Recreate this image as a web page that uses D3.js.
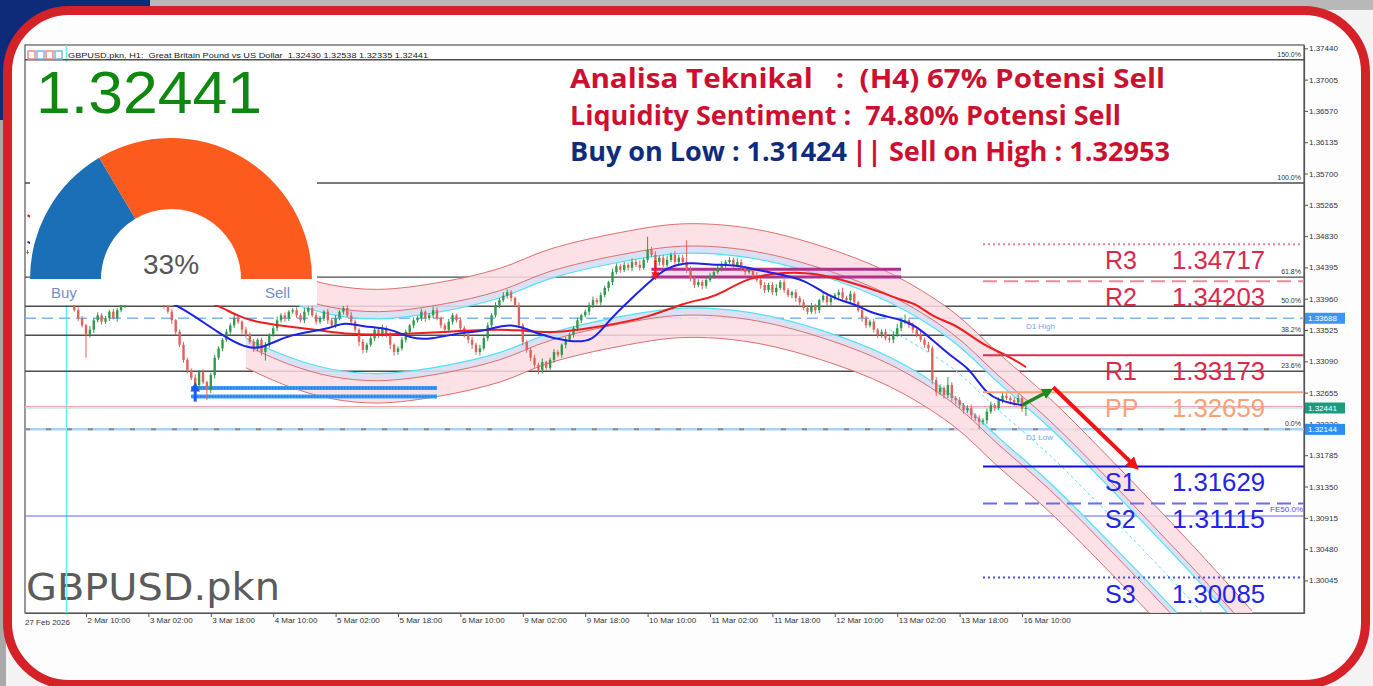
<!DOCTYPE html>
<html>
<head>
<meta charset="utf-8">
<script src="https://cdn.jsdelivr.net/npm/d3@7"></script>
<style>
  body { margin: 0; background: #f2f2f2; }
  svg { display: block; }
  text { white-space: pre; }
</style>
</head>
<body>
<svg id="chart" width="1373" height="686"></svg>
<script>
// ---- data ----
let firstBar = -15

let closes = [
  1.3461,1.3453,1.3457,1.3447,1.3439,1.3443,1.3433,1.3422,1.3428,1.3415,1.3405,
  1.3394,1.3380,1.3369,1.3359,1.3346,1.3353,1.3366,1.3373,1.3364,1.3369,
  1.3378,1.3369,1.3380,1.3387,1.3397,1.3401,1.3405,1.3408,1.3411,1.3405,1.3401,1.3408,1.3403,1.3394,1.3386,
  1.3378,1.3366,1.3350,1.3332,1.3311,1.3297,1.3286,1.3276,1.3294,1.3280,1.3269,1.3290,1.3314,1.3327,1.3339,1.3350,1.3359,1.3369,
  1.3364,1.3353,1.3346,1.3336,1.3327,1.3339,1.3322,1.3332,1.3346,1.3355,1.3366,1.3373,
  1.3369,1.3378,1.3380,1.3373,1.3366,1.3378,1.3383,1.3373,1.3364,1.3369,1.3378,1.3366,1.3359,1.3369,1.3378,1.3383,1.3373,
  1.3364,1.3353,1.3336,1.3325,1.3332,1.3341,1.3353,1.3346,1.3355,1.3346,1.3332,1.3322,1.3327,1.3339,1.3350,1.3359,1.3366,1.3369,
  1.3378,1.3369,1.3373,1.3380,1.3369,1.3359,1.3353,1.3364,1.3373,1.3366,1.3355,1.3346,1.3339,
  1.3332,1.3322,1.3327,1.3341,1.3359,
  1.3373,1.3387,1.3394,1.3400,1.3405,1.3397,1.3387,
  1.3359,1.3336,1.3325,1.3314,1.3304,1.3297,1.3308,1.3300,
  1.3311,1.3322,1.3318,1.3332,1.3339,1.3346,1.3355,1.3366,1.3373,1.3378,1.3387,1.3394,
  1.3391,1.3401,1.3411,1.3419,1.3433,1.3441,1.3436,1.3443,1.3439,1.3447,1.3443,
  1.3439,1.3450,1.3464,1.3457,1.3447,1.3453,1.3443,1.3450,1.3457,1.3447,1.3453,
  1.3447,1.3436,1.3425,1.3415,1.3419,1.3414,1.3422,1.3428,
  1.3433,1.3439,1.3443,1.3447,1.3450,1.3443,1.3447,1.3439,1.3433,1.3436,1.3428,
  1.3422,1.3415,1.3408,1.3415,1.3405,1.3411,1.3419,1.3408,1.3401,1.3405,1.3397,
  1.3391,1.3383,1.3378,1.3386,1.3380,1.3394,1.3400,1.3391,1.3397,
  1.3401,1.3405,1.3397,1.3394,1.3403,1.3391,
  1.3380,1.3369,1.3359,1.3364,1.3353,1.3346,1.3350,1.3341,1.3339,1.3346,1.3355,
  1.3364,1.3366,1.3359,
  1.3353,1.3346,1.3339,1.3332,1.3327,
  1.3283,1.3266,1.3272,1.3262,1.3276,1.3258,
  1.3255,1.3248,1.3241,1.3244,1.3234,1.3230,1.3225,
  1.3227,1.3239,1.3248,1.3244,1.3255,
  1.3261,1.3258,1.3255,1.3252,1.3258,1.3243,1.32441
]

// wick lengths in pips above / below the body
let wickUp = [
  3,4,2,5,3,4,2,3,5,3,4,2,3,4,3,2,5,3,4,3,
  3,2,4,3,5,2,3,4,3,5,2,4,3,3,4,2,3,4,2,3,
  4,3,2,5,3,4,2,3,4,3,2,4,3,5,3,2,4,3,4,2,
  3,4,2,3,5,3,4,2,3,4,3,5,2,3,4,3,2,4,3,4,
  2,3,4,5,3,2,4,3,3,4,2,5,3,4,2,3,4,3,2,4,
  3,4,2,3,5,4,2,3,4,3,2,4,3,2,4,3,5,3,4,3,
  4,3,5,4,3,2,4,3,2,3,4,3,5,2,3,4,3,2,4,3,
  3,4,2,3,4,5,3,4,3,2,5,4,3,4,3,5,4,6,3,18,
  4,5,3,4,6,3,5,4,4,30,5,3,4,3,5,4,3,4,5,3,
  4,3,5,4,3,4,3,5,3,4,3,4,5,3,4,3,2,4,3,4,
  3,4,3,2,4,3,5,3,4,6,3,4,3,2,4,3,3,4,2,3,
  4,3,5,6,4,8,3,4,3,5,3,4,3,4,5,3,11,4,3,4,
  3,4,5,3,4,3,4,5,3,4,5,4,3,4,5,3,10
]
let wickDown = [
  3,2,4,3,5,3,4,2,3,4,3,5,2,4,3,32,4,5,3,4,
  3,4,2,5,3,4,3,2,4,3,5,3,4,2,3,4,3,5,4,3,
  4,5,3,4,5,3,14,4,5,3,4,3,5,4,3,6,4,3,5,4,
  5,12,4,3,4,3,5,4,3,4,3,4,5,3,4,3,4,5,3,4,
  3,4,3,5,4,6,5,4,3,4,5,3,4,6,5,4,3,4,3,4,
  3,4,5,3,4,3,4,5,3,4,3,5,4,5,6,4,5,3,4,3,
  3,4,3,4,5,3,4,5,4,5,4,6,5,4,3,4,3,4,5,3,
  4,3,4,3,5,4,3,4,3,5,4,3,4,3,4,5,3,4,3,4,
  3,4,5,3,4,3,4,5,3,4,5,4,3,5,4,3,4,3,5,4,
  3,4,3,5,4,3,4,3,5,4,3,4,5,3,4,3,4,5,4,3,
  4,3,5,4,3,4,5,3,4,3,4,5,4,3,5,4,3,4,5,4,
  3,4,5,3,4,3,4,5,4,3,4,5,6,5,4,5,4,5,6,4,
  5,4,5,4,11,4,5,3,4,3,4,3,4,5,3,4,10
]

// [bar, price] points of the two moving averages
let blueMA = [[-15,1.3475],[4,1.3433],[16,1.3405],[25,1.3383],[34,1.3348],[41,1.3327],[45,1.3327],[51,1.3343],
  [55,1.3348],[63,1.3355],[66,1.3364],[71,1.3357],[78,1.3355],[83,1.3341],[88,1.3339],[97,1.3350],[102,1.3350],
  [109,1.3364],[116,1.3346],[124,1.3336],[130,1.3336],[134,1.3366],[140,1.3397],[145,1.3422],[149,1.3440],
  [155,1.3447],[160,1.3443],[167,1.3443],[172,1.3436],[179,1.3429],[184,1.3422],[189,1.3405],[193,1.3394],
  [198,1.3387],[201,1.3376],[210,1.3366],[213,1.3357],[217,1.3339],[222,1.3315],[226,1.3301],[229,1.3279],
  [231,1.3265],[234,1.3255],[237,1.3251],[240,1.3248]]
let redMA = [[-15,1.3512],[9,1.3447],[24,1.3405],[34,1.3387],[39,1.3371],[45,1.3362],[51,1.3358],[59,1.3353],
  [68,1.3346],[76,1.3346],[85,1.3348],[93,1.3350],[102,1.3353],[111,1.3353],[119,1.3347],[132,1.3357],
  [145,1.3371],[153,1.3390],[160,1.3397],[163,1.3404],[170,1.3426],[179,1.3433],[187,1.3432],[196,1.3419],
  [204,1.3405],[209,1.3394],[213,1.3389],[217,1.3371],[222,1.3362],[226,1.3348],[231,1.3329],[236,1.3318],[241,1.3301]]

// polynomial regression channel: centre line and band offsets (price)
let channelCenter = [[41,1.3379],[52,1.3353],[63,1.3336],[75,1.3330],[91,1.3340],[106,1.3359],[119,1.3386],
  [137,1.3409],[153,1.3421],[170,1.3415],[188,1.3391],[206,1.3353],[222,1.3300],[234,1.3241],[247,1.3179],
  [260,1.3109],[273,1.3036],[286,1.2961],[299,1.2883]]
let channelOuter = 0.0079, channelInner = 0.0048, channelCyan = 0.0038

let priceTicks = [1.37440,1.37005,1.36570,1.36135,1.35700,1.35265,1.34830,1.34395,1.33960,1.33525,
  1.33090,1.32655,1.32220,1.31785,1.31350,1.30915,1.30480,1.30045]
let timeBars = [0,16,32,48,64,80,96,112,128,144,160,176,192,208,224,240]
let timeLabels = ["2 Mar 10:00","3 Mar 02:00","3 Mar 18:00","4 Mar 10:00","5 Mar 02:00","5 Mar 18:00",
  "6 Mar 10:00","9 Mar 02:00","9 Mar 18:00","10 Mar 10:00","11 Mar 02:00","11 Mar 18:00","12 Mar 10:00",
  "13 Mar 02:00","13 Mar 18:00","16 Mar 10:00"]

let fibLow = 1.32144, fibHigh = 1.35568
let fibLevels = [0, 23.6, 38.2, 50, 61.8, 100, 150]

let pivotNames = ["R3","R2","R1","PP","S1","S2","S3"]
let pivotValues = [1.34717,1.34203,1.33173,1.32659,1.31629,1.31115,1.30085]
let pivotStartBar = 230

let d1High = 1.33688, d1Low = 1.32144, fe50 = 1.3094
let bid = 1.32441, ask = 1.32462
let resistZone = [145, 209, 1.3426, 1.3437]
let supportZone = [27, 90, 1.3260, 1.3272]
let signalArrows = [
  {from: [146, 1.3449], to: [146, 1.3426], kind: "down"},
  {from: [28, 1.3253], to: [28, 1.3275], kind: "up"},
  {from: [240, 1.3248], to: [247, 1.3268], kind: "buy"},
  {from: [248, 1.3273], to: [269, 1.3163], kind: "sell"}
]
let gaugeShares = [33, 67]
let gaugeLabels = ["Buy", "Sell"]

// ---- layout ----
let plot = {left: 25, right: 1304, top: 45, bottom: 613}
let x = d3.scaleLinear().domain([-15.64, 312.3]).range([plot.left, plot.right])
let y = d3.scaleLinear().domain([1.29592, 1.37486]).range([plot.bottom, plot.top])
let svg = d3.select("#chart")
let mono = "Liberation Sans, Arial, sans-serif"

// page background and red frame
svg.append("rect").attr("width", 1373).attr("height", 686).attr("fill", "#f3f3f3")
svg.append("rect").attr("width", 1373).attr("height", 10).attr("fill", "#b8b8b8")
svg.append("rect").attr("width", 150).attr("height", 120).attr("fill", "#0d2b78")
svg.append("rect").attr("y", 120).attr("width", 6).attr("height", 566).attr("fill", "#a9a9a9")
svg.append("rect")
  .attr("x", 7.5).attr("y", 10.5).attr("width", 1358).attr("height", 674)
  .attr("rx", 62).attr("fill", "#fdfdfd")
  .attr("stroke", "#d52229").attr("stroke-width", 9)

// chart window
svg.append("rect")
  .attr("x", plot.left).attr("y", plot.top)
  .attr("width", plot.right - plot.left).attr("height", plot.bottom - plot.top)
  .attr("fill", "#fff").attr("stroke", "#555").attr("stroke-width", 1.2)

svg.append("clipPath").attr("id", "clip")
  .append("rect")
  .attr("x", plot.left).attr("y", plot.top)
  .attr("width", plot.right - plot.left).attr("height", plot.bottom - plot.top)

let g = svg.append("g").attr("clip-path", "url(#clip)")

// watermark
g.append("text").attr("x", 26).attr("y", 600)
  .attr("font-family", "DejaVu Sans, sans-serif").attr("font-size", 37)
  .attr("fill", "#5b5b5b").attr("textLength", 254).attr("lengthAdjust", "spacingAndGlyphs")
  .text("GBPUSD.pkn")

// vertical cyan separator
g.append("line").attr("x1", x(-5)).attr("x2", x(-5)).attr("y1", plot.top).attr("y2", plot.bottom)
  .attr("stroke", "#62f2f4").attr("stroke-width", 1.6)

// fibonacci lines
let fibPrice = lv => fibLow + (fibHigh - fibLow) * lv / 100
g.selectAll(".fib").data(fibLevels).enter().append("line")
  .attr("x1", plot.left).attr("x2", plot.right)
  .attr("y1", d => y(fibPrice(d))).attr("y2", d => y(fibPrice(d)))
  .attr("stroke", "#4d4d4d").attr("stroke-width", 1.4)
g.selectAll(".fibl").data(fibLevels).enter().append("text")
  .attr("x", plot.right - 3).attr("y", d => y(fibPrice(d)) - 3)
  .attr("text-anchor", "end").attr("font-family", mono).attr("font-size", 7).attr("fill", "#333")
  .text(d => d.toFixed(1) + "%")

// D1 high / low, FE line, bid / ask
g.append("line").attr("x1", plot.left).attr("x2", plot.right)
  .attr("y1", y(d1High)).attr("y2", y(d1High))
  .attr("stroke", "#7db6f2").attr("stroke-width", 1.5).attr("stroke-dasharray", "11,6")
g.append("line").attr("x1", plot.left).attr("x2", plot.right)
  .attr("y1", y(d1Low)).attr("y2", y(d1Low))
  .attr("stroke", "#a6d2fb").attr("stroke-width", 2.5)
g.append("line").attr("x1", plot.left).attr("x2", plot.right)
  .attr("y1", y(d1Low)).attr("y2", y(d1Low))
  .attr("stroke", "#8a8a8a").attr("stroke-width", 2).attr("stroke-dasharray", "5,16")
g.append("text").attr("x", x(241)).attr("y", y(d1High) + 11)
  .attr("font-family", mono).attr("font-size", 8).attr("fill", "#6aa8ec").text("D1 High")
g.append("text").attr("x", x(241)).attr("y", y(d1Low) + 11)
  .attr("font-family", mono).attr("font-size", 8).attr("fill", "#6aa8ec").text("D1 Low")
g.append("line").attr("x1", plot.left).attr("x2", plot.right)
  .attr("y1", y(fe50)).attr("y2", y(fe50))
  .attr("stroke", "#6464f4").attr("stroke-width", 1.2)
g.append("text").attr("x", plot.right - 1).attr("y", y(fe50) - 4)
  .attr("text-anchor", "end").attr("font-family", mono).attr("font-size", 8).attr("fill", "#4a4af5")
  .text("FE50.0%")
g.append("line").attr("x1", plot.left).attr("x2", plot.right)
  .attr("y1", y(ask)).attr("y2", y(ask)).attr("stroke", "#f0a4a4").attr("stroke-width", 1.2)
g.append("line").attr("x1", plot.left).attr("x2", plot.right)
  .attr("y1", y(bid)).attr("y2", y(bid)).attr("stroke", "#9fdcd6").attr("stroke-width", 1.2)

// regression channel
let band = (a, b) => d3.area().curve(d3.curveCatmullRom)
  .x(d => x(d[0])).y0(d => y(d[1] + a)).y1(d => y(d[1] + b))
let edge = off => d3.line().curve(d3.curveCatmullRom)
  .x(d => x(d[0])).y(d => y(d[1] + off))
;[[channelInner, channelOuter], [-channelOuter, -channelInner]].forEach(([a, b]) =>
  g.append("path").datum(channelCenter).attr("d", band(a, b)).attr("fill", "#fbdde2").attr("fill-opacity", 0.85))
;[[channelCyan, channelInner], [-channelInner, -channelCyan]].forEach(([a, b]) =>
  g.append("path").datum(channelCenter).attr("d", band(a, b)).attr("fill", "#d9dcf2").attr("fill-opacity", 0.9))
;[channelOuter, channelInner, -channelInner, -channelOuter].forEach(o =>
  g.append("path").datum(channelCenter).attr("d", edge(o))
    .attr("fill", "none").attr("stroke", "#dc6f6c").attr("stroke-width", 1))
;[channelCyan, -channelCyan].forEach(o =>
  g.append("path").datum(channelCenter).attr("d", edge(o))
    .attr("fill", "none").attr("stroke", "#4fe3f0").attr("stroke-width", 1.2))
g.append("path").datum(channelCenter.filter(d => d[0] >= 206)).attr("d", edge(0))
  .attr("fill", "none").attr("stroke", "#4fe3f0").attr("stroke-width", 1).attr("stroke-dasharray", "3,3")

// zones
g.append("rect").attr("x", x(resistZone[0])).attr("width", x(resistZone[1]) - x(resistZone[0]))
  .attr("y", y(resistZone[3])).attr("height", y(resistZone[2]) - y(resistZone[3]))
  .attr("fill", "#e7a6cf").attr("fill-opacity", 0.35)
;[resistZone[2], resistZone[3]].forEach(p =>
  g.append("line").attr("x1", x(resistZone[0])).attr("x2", x(resistZone[1]))
    .attr("y1", y(p)).attr("y2", y(p)).attr("stroke", "#b0308e").attr("stroke-width", 3))
;[supportZone[2], supportZone[3]].forEach(p => {
  g.append("line").attr("x1", x(supportZone[0])).attr("x2", x(supportZone[1]))
    .attr("y1", y(p)).attr("y2", y(p)).attr("stroke", "#3d9bf4").attr("stroke-width", 4)
  g.append("line").attr("x1", x(supportZone[0])).attr("x2", x(supportZone[1]))
    .attr("y1", y(p)).attr("y2", y(p)).attr("stroke", "#1469d8").attr("stroke-width", 1.5)
    .attr("stroke-dasharray", "1,2")
})

// candles
let bars = closes.map((c, k) => {
  let o = k == 0 ? c : closes[k - 1]
  return {i: firstBar + k, o, c,
    h: Math.max(o, c) + wickUp[k] / 10000,
    l: Math.min(o, c) - wickDown[k] / 10000}
})
let candle = g.selectAll(".candle").data(bars).enter().append("g")
  .attr("stroke", d => d.c >= d.o ? "#2f9a4c" : "#e0625c")
  .attr("fill", d => d.c >= d.o ? "#2f9a4c" : "#e0625c")
candle.append("line")
  .attr("x1", d => x(d.i)).attr("x2", d => x(d.i))
  .attr("y1", d => y(d.h)).attr("y2", d => y(d.l)).attr("stroke-width", 1)
candle.append("rect")
  .attr("x", d => x(d.i) - 1.2).attr("width", 2.4)
  .attr("y", d => y(Math.max(d.o, d.c)))
  .attr("height", d => Math.max(1, Math.abs(y(d.o) - y(d.c))))
  .attr("stroke", "none")

// moving averages
let maLine = d3.line().curve(d3.curveBasis).x(d => x(d[0])).y(d => y(d[1]))
g.append("path").datum(redMA).attr("d", maLine)
  .attr("fill", "none").attr("stroke", "#f01c1c").attr("stroke-width", 2)
g.append("path").datum(blueMA).attr("d", maLine)
  .attr("fill", "none").attr("stroke", "#1c22e6").attr("stroke-width", 2)

// pivot levels
let pivotStroke = ["#ee7f93","#ee8a9c","#d2354f","#f7a27a","#1212d6","#6b6bec","#4b4bec"]
let pivotDash = ["2,3","14,7",null,null,null,"14,7","2,3"]
let pivotText = ["#d9294d","#d9294d","#d9294d","#f6a07c","#2424e8","#2424e8","#2424e8"]
pivotValues.forEach((p, k) => {
  g.append("line").attr("x1", x(pivotStartBar)).attr("x2", plot.right)
    .attr("y1", y(p)).attr("y2", y(p))
    .attr("stroke", pivotStroke[k]).attr("stroke-width", 2)
    .attr("stroke-dasharray", pivotDash[k])
  g.append("text").attr("x", 1105).attr("y", y(p) + 25)
    .attr("font-family", mono).attr("font-size", 25).attr("fill", pivotText[k])
    .text(pivotNames[k])
  g.append("text").attr("x", 1172).attr("y", y(p) + 25)
    .attr("font-family", mono).attr("font-size", 25).attr("fill", pivotText[k])
    .attr("textLength", 93).attr("lengthAdjust", "spacingAndGlyphs")
    .text(p.toFixed(5))
})

// signal arrows
let arrowColor = {down: "#ee1b1b", up: "#1a5be8", buy: "#1d8a1d", sell: "#f01414"}
let arrowWidth = {down: 2.5, up: 3, buy: 3.5, sell: 4}
let defs = svg.append("defs")
Object.keys(arrowColor).forEach(k => {
  defs.append("marker").attr("id", "ah-" + k)
    .attr("viewBox", "0 0 10 10").attr("refX", 6).attr("refY", 5)
    .attr("markerWidth", 3.2).attr("markerHeight", 3.2).attr("orient", "auto")
    .append("path").attr("d", "M0,0L10,5L0,10z").attr("fill", arrowColor[k])
})
g.selectAll(".arrow").data(signalArrows).enter().append("line")
  .attr("x1", d => x(d.from[0])).attr("y1", d => y(d.from[1]))
  .attr("x2", d => x(d.to[0])).attr("y2", d => y(d.to[1]))
  .attr("stroke", d => arrowColor[d.kind]).attr("stroke-width", d => arrowWidth[d.kind])
  .attr("marker-end", d => "url(#ah-" + d.kind + ")")

// header line of the chart window
;["#f08a8a","#7fb2ec","#f08a8a","#7fb2ec"].forEach((c, k) =>
  svg.append("rect").attr("x", 28 + k * 9).attr("y", 51).attr("width", 7).attr("height", 8)
    .attr("fill", "none").attr("stroke", c).attr("stroke-width", 1.5))
svg.append("text").attr("x", 68).attr("y", 58)
  .attr("font-family", mono).attr("font-size", 7.5).attr("fill", "#222")
  .attr("textLength", 360).attr("lengthAdjust", "spacingAndGlyphs")
  .text("GBPUSD.pkn, H1:  Great Britain Pound vs US Dollar  1.32430 1.32538 1.32335 1.32441")

// price axis
let yAxis = svg.append("g").attr("transform", `translate(${plot.right},0)`)
  .call(d3.axisRight(y).tickValues(priceTicks).tickFormat(d3.format(".5f")).tickSize(4).tickSizeOuter(0))
yAxis.attr("font-family", mono).attr("font-size", 8)
yAxis.select(".domain").attr("stroke", "#555").attr("stroke-width", 1.2)
yAxis.selectAll(".tick line").attr("stroke", "#555")
yAxis.selectAll("text").attr("fill", "#333").attr("x", 5)

// time axis
let xAxis = svg.append("g").attr("transform", `translate(0,${plot.bottom})`)
  .call(d3.axisBottom(x).tickValues(timeBars).tickFormat((d, k) => timeLabels[k]).tickSize(4).tickSizeOuter(0))
xAxis.attr("font-family", mono).attr("font-size", 8)
xAxis.select(".domain").attr("stroke", "#555").attr("stroke-width", 1.2)
xAxis.selectAll(".tick line").attr("stroke", "#555")
xAxis.selectAll("text").attr("fill", "#333").attr("text-anchor", "start").attr("x", 1).attr("y", 4)
svg.append("text").attr("x", plot.left).attr("y", plot.bottom + 12)
  .attr("font-family", mono).attr("font-size", 8).attr("fill", "#333").text("27 Feb 2026")

// price tags on the axis
;[[bid, "#1e9b7c"], [d1Low, "#2c8df2"], [d1High, "#3b97f5"]].forEach(([p, c]) => {
  svg.append("rect").attr("x", plot.right + 1).attr("y", y(p) - 5.5).attr("width", 40).attr("height", 11).attr("fill", c)
  svg.append("text").attr("x", plot.right + 4).attr("y", y(p) + 3)
    .attr("font-family", mono).attr("font-size", 8).attr("fill", "#fff").text(p.toFixed(5))
})

// sentiment panel with the big current price and the gauge
svg.append("rect").attr("x", 30).attr("y", 62).attr("width", 287).attr("height", 243).attr("fill", "#fff")
svg.append("text").attr("x", 36).attr("y", 113)
  .attr("font-family", mono).attr("font-size", 60).attr("fill", "#0e880e")
  .attr("textLength", 226).attr("lengthAdjust", "spacingAndGlyphs")
  .text(bid.toFixed(5))
let pie = d3.pie().sort(null).startAngle(-Math.PI / 2).endAngle(Math.PI / 2)
let arc = d3.arc().innerRadius(70).outerRadius(141)
let gauge = svg.append("g").attr("transform", "translate(171,279)")
gauge.selectAll("path").data(pie(gaugeShares)).enter().append("path")
  .attr("d", arc).attr("fill", (d, k) => ["#1b6fb7", "#fd5b1d"][k])
gauge.append("text").attr("y", -5).attr("text-anchor", "middle")
  .attr("font-family", mono).attr("font-size", 28).attr("fill", "#555")
  .text(gaugeShares[0] + "%")
gauge.selectAll(".glab").data(gaugeLabels).enter().append("text")
  .attr("x", (d, k) => k == 0 ? -120 : 94).attr("y", 19)
  .attr("font-family", mono).attr("font-size", 15).attr("fill", "#6f8fc8")
  .text(d => d)

// analysis text
let bold = "Open Sans, Noto Sans, sans-serif"
let info = svg.append("g").attr("font-family", bold).attr("font-weight", 700).attr("font-size", 26)
info.append("text").attr("x", 570).attr("y", 88).attr("fill", "#cc1030")
  .attr("textLength", 595).attr("lengthAdjust", "spacingAndGlyphs")
  .text("Analisa Teknikal   :  (H4) 67% Potensi Sell")
info.append("text").attr("x", 570).attr("y", 125).attr("fill", "#cc1030")
  .attr("textLength", 551).attr("lengthAdjust", "spacingAndGlyphs")
  .text("Liquidity Sentiment :  74.80% Potensi Sell")
info.append("text").attr("x", 570).attr("y", 161).attr("fill", "#0f2c7c")
  .attr("textLength", 277).attr("lengthAdjust", "spacingAndGlyphs")
  .text("Buy on Low : 1.31424")
info.append("text").attr("x", 852).attr("y", 161).attr("fill", "#cc1030")
  .attr("textLength", 318).attr("lengthAdjust", "spacingAndGlyphs")
  .text("|| Sell on High : 1.32953")
</script>
</body>
</html>
